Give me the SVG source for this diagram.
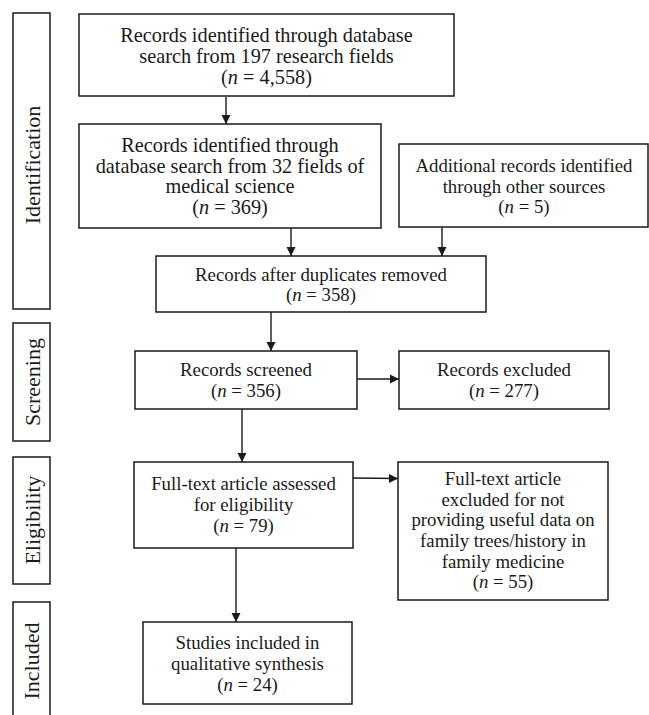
<svg xmlns="http://www.w3.org/2000/svg" width="649" height="715" viewBox="0 0 649 715">
<style>
rect{fill:#fff;stroke:#1a1a1a;stroke-width:1.5}
text{font-family:"Liberation Serif","DejaVu Serif",serif;font-size:18.8px;fill:#1a1a1a;text-anchor:middle}
.big text{font-size:20.3px}
.side text{font-size:22px}
.i{font-style:italic}
.c line{stroke:#1a1a1a;stroke-width:1.4}
</style>
<defs>
<marker id="ah" markerWidth="10" markerHeight="10" refX="9" refY="5" orient="auto" markerUnits="userSpaceOnUse">
<path d="M0,0.5 L9,5 L0,9.5 Z" fill="#1a1a1a"/>
</marker>
</defs>
<g id="stage-identification" class="side"><rect x="13" y="13" width="37" height="296"/><text transform="translate(40,165) rotate(-90)">Identification</text></g>
<g id="stage-screening" class="side"><rect x="13" y="323" width="37" height="118"/><text transform="translate(40,382) rotate(-90)">Screening</text></g>
<g id="stage-eligibility" class="side"><rect x="13" y="457" width="37" height="127"/><text transform="translate(40,520) rotate(-90)">Eligibility</text></g>
<g id="stage-included" class="side"><rect x="13" y="602" width="37" height="130"/><text transform="translate(39,661) rotate(-90)">Included</text></g>

<g class="c" id="connectors">
<line x1="226" y1="97" x2="226" y2="124" marker-end="url(#ah)"/>
<line x1="291" y1="228" x2="291" y2="256" marker-end="url(#ah)"/>
<line x1="442" y1="227" x2="442" y2="256" marker-end="url(#ah)"/>
<line x1="271" y1="312" x2="271" y2="351" marker-end="url(#ah)"/>
<line x1="357" y1="379" x2="399" y2="379" marker-end="url(#ah)"/>
<line x1="242" y1="409" x2="242" y2="462" marker-end="url(#ah)"/>
<line x1="353" y1="478" x2="398" y2="478.5" marker-end="url(#ah)"/>
<line x1="236" y1="548" x2="236" y2="622" marker-end="url(#ah)"/>
</g>

<g id="n1" class="big"><rect x="79" y="14" width="375" height="82"/>
<text x="266.5" y="42">Records identified through database</text>
<text x="266.5" y="63">search from 197 research fields</text>
<text x="266.5" y="84">(<tspan class="i">n</tspan> = 4,558)</text></g>

<g id="n2" class="big"><rect x="79" y="124" width="302" height="104"/>
<text x="230" y="152">Records identified through</text>
<text x="230" y="172.5">database search from 32 fields of</text>
<text x="230" y="193">medical science</text>
<text x="230" y="213.5">(<tspan class="i">n</tspan> = 369)</text></g>

<g id="n3"><rect x="399" y="144" width="249" height="83"/>
<text x="524" y="172">Additional records identified</text>
<text x="524" y="192.5">through other sources</text>
<text x="524" y="213">(<tspan class="i">n</tspan> = 5)</text></g>

<g id="n4"><rect x="156" y="256" width="330" height="56"/>
<text x="321" y="280.5">Records after duplicates removed</text>
<text x="321" y="300.5">(<tspan class="i">n</tspan> = 358)</text></g>

<g id="n5"><rect x="135" y="351" width="222" height="58"/>
<text x="246" y="376">Records screened</text>
<text x="246" y="397">(<tspan class="i">n</tspan> = 356)</text></g>

<g id="n6"><rect x="399" y="351" width="210" height="58"/>
<text x="504" y="376">Records excluded</text>
<text x="504" y="397">(<tspan class="i">n</tspan> = 277)</text></g>

<g id="n7"><rect x="134" y="462" width="219" height="86"/>
<text x="243.5" y="490">Full-text article assessed</text>
<text x="243.5" y="511">for eligibility</text>
<text x="243.5" y="532">(<tspan class="i">n</tspan> = 79)</text></g>

<g id="n8"><rect x="398" y="462" width="210" height="138"/>
<text x="503" y="485">Full-text article</text>
<text x="503" y="505.5">excluded for not</text>
<text x="503" y="526">providing useful data on</text>
<text x="503" y="547">family trees/history in</text>
<text x="503" y="567.5">family medicine</text>
<text x="503" y="588">(<tspan class="i">n</tspan> = 55)</text></g>

<g id="n9"><rect x="143" y="622" width="209" height="82"/>
<text x="247.5" y="649">Studies included in</text>
<text x="247.5" y="670">qualitative synthesis</text>
<text x="247.5" y="691">(<tspan class="i">n</tspan> = 24)</text></g>
</svg>
